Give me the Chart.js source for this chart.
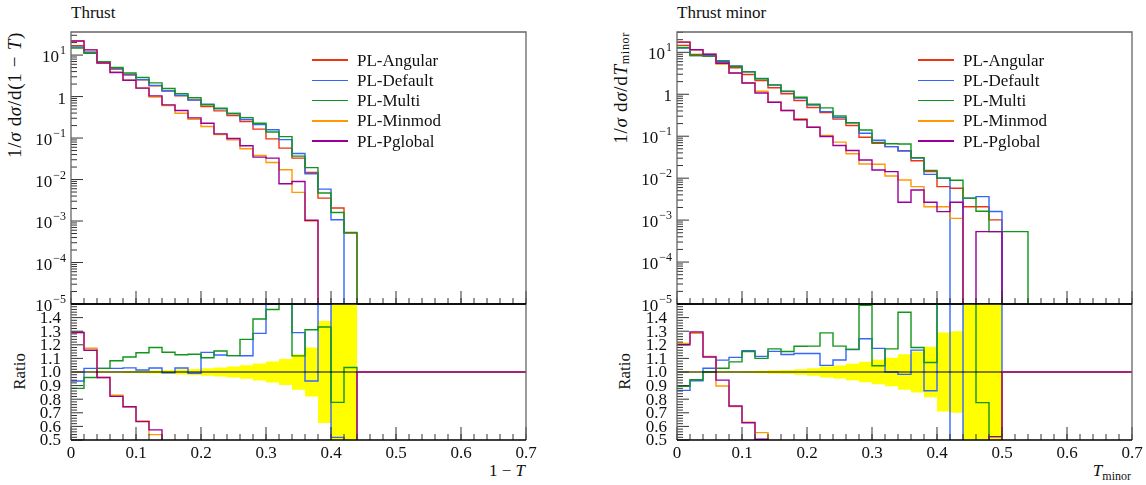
<!DOCTYPE html>
<html>
<head>
<meta charset="utf-8">
<script src="https://cdn.jsdelivr.net/npm/chart.js@4.4.1/dist/chart.umd.min.js"></script>
<style>
  html, body { margin: 0; padding: 0; background: #fff; }
  #page { position: relative; width: 1146px; height: 485px; overflow: hidden;
          font-family: "Liberation Serif", "DejaVu Serif", serif; color: #111; }
  canvas { position: absolute; }
  .txt { position: absolute; white-space: nowrap; font-size: 17px; line-height: 17px; }
  .vtxt { position: absolute; white-space: nowrap; font-size: 17px; line-height: 18px;
          writing-mode: vertical-rl; transform: rotate(180deg); }
  .ytitle { font-size: 19px; letter-spacing: 0.7px; }
  .legline { position: absolute; width: 36px; height: 1.5px; }
  sub { font-size: 12px; vertical-align: -4px; line-height: 0; }
</style>
</head>
<body>
<div id="page">
  <div class="txt" style="left:71px;top:4px">Thrust</div>
  <div class="txt" style="left:677px;top:4px">Thrust minor</div>
  <div class="vtxt ytitle" style="left:6px;top:32px">1/<i>σ</i> d<i>σ</i>/d(1 − <i>T</i>)</div>
  <div class="vtxt ytitle" style="left:612px;top:32px">1/<i>σ</i> d<i>σ</i>/d<i>T</i><sub>minor</sub></div>
  <div class="vtxt" style="left:11px;top:353px">Ratio</div>
  <div class="vtxt" style="left:616px;top:353px">Ratio</div>
  <div class="txt" style="right:621px;top:462px">1 − <i>T</i></div>
  <div class="txt" style="right:15px;top:462px"><i>T</i><sub>minor</sub></div>
</div>
<script>
// binning
const binW = 0.02;
const nBins = 35;          // 0 .. 0.7

const seriesNames = ['PL-Angular', 'PL-Default', 'PL-Multi', 'PL-Minmod', 'PL-Pglobal'];
const seriesColors = ['#ee3311', '#3366ff', '#109618', '#ff9900', '#990099'];
const bandColor = '#ffff00';

// tick labels
const xTickValues = [0, 0.1, 0.2, 0.3, 0.4, 0.5, 0.6, 0.7];
const xTickLabels = ['0', '0.1', '0.2', '0.3', '0.4', '0.5', '0.6', '0.7'];
const ratioTickValues = [0.5, 0.6, 0.7, 0.8, 0.9, 1.0, 1.1, 1.2, 1.3, 1.4];
const ratioTickLabels = ['0.5', '0.6', '0.7', '0.8', '0.9', '1.0', '1.1', '1.2', '1.3', '1.4'];
const logTickExps = [1, 0, -1, -2, -3, -4, -5];
const logTickLabels = [['10', '1'], ['1', ''], ['10', '−1'], ['10', '−2'], ['10', '−3'], ['10', '−4'], ['10', '−5']];

// Thrust, 1-T  (bins of 0.02 from 0)
const thrustAngular = [16.9, 11.5, 6.7, 4.63, 3.32, 2.52, 1.81, 1.37, 1.04, 0.83, 0.574, 0.452, 0.349, 0.25, 0.164, 0.0957, 0.0571, 0.0328, 0.0148, 0.00357, 0.00206, 0.00051];
const thrustDefault = [15.78, 11.81, 6.88, 4.755, 3.42, 2.558, 1.864, 1.363, 1.071, 0.822, 0.657, 0.5085, 0.391, 0.28, 0.2106, 0.158, 0.0914, 0.0423, 0.01382, 0.00589, 0.00107, 0];
const thrustMulti = [14.87, 11.04, 6.88, 5.014, 3.685, 2.878, 2.136, 1.569, 1.172, 0.938, 0.634, 0.5216, 0.391, 0.31, 0.228, 0.1397, 0.1085, 0.0367, 0.01939, 0.00475, 0.0016, 0.000527];
const thrustMinmod = [21.8, 13.51, 6.43, 3.84, 2.47, 1.613, 0.977, 0.607, 0.397, 0.285, 0.19, 0.1217, 0.0906, 0.055, 0.038, 0.0258, 0.0172, 0.0049, 0.001];
const thrustPglobal = [21.8, 13.34, 6.43, 3.80, 2.47, 1.60, 1.04, 0.63, 0.46, 0.307, 0.228, 0.126, 0.0975, 0.065, 0.0347, 0.0328, 0.0079, 0.009, 0.00104];
const thrustRefErr = [0.003, 0.004, 0.005, 0.006, 0.007, 0.009, 0.011, 0.014, 0.018, 0.022, 0.028, 0.033, 0.04, 0.05, 0.062, 0.078, 0.096, 0.13, 0.18, 0.375, 0.6, 0.6];

// Thrust minor
const minorAngular = [14.6, 8.9, 8.1, 5.83, 4.28, 2.97, 2.13, 1.43, 1.03, 0.711, 0.484, 0.368, 0.255, 0.18, 0.0944, 0.068, 0.0564, 0.0453, 0.0261, 0.0143, 0.00627, 0.00573, 0.00209, 0.00209, 0.00101];
const minorDefault = [12.63, 8.33, 8.32, 6.34, 4.74, 3.436, 2.375, 1.647, 1.162, 0.808, 0.55, 0.386, 0.2774, 0.2097, 0.1175, 0.0798, 0.0564, 0.0445, 0.0303, 0.01233, 0.01003, 0, 0.00334, 0.00362, 0.0016];
const minorMulti = [13.07, 8.39, 8.1, 5.99, 4.6, 3.416, 2.343, 1.673, 1.185, 0.846, 0.576, 0.474, 0.3035, 0.2099, 0.1407, 0.0711, 0.066, 0.0652, 0.0308, 0.0153, 0.01003, 0.00888, 0.00334, 0.00162, 0.00053, 0.00053, 0.00053];
const minorMinmod = [17.67, 11.43, 9.02, 5.23, 3.19, 1.871, 1.18, 0.647, 0.411, 0.26, 0.164, 0.104, 0.0722, 0.0381, 0.0218, 0.0214, 0.0113, 0.00905, 0.00627, 0.00209, 0.00209, 0.0011];
const minorPglobal = [17.52, 11.52, 8.99, 5.48, 3.21, 1.862, 1.076, 0.647, 0.411, 0.246, 0.164, 0.0986, 0.0601, 0.0457, 0.0271, 0.0157, 0.0143, 0.00266, 0.00522, 0.00266, 0.00159, 0.00266, 0, 0.00053, 0.00053];
const minorRefErr = [0.003, 0.003, 0.004, 0.005, 0.006, 0.008, 0.01, 0.012, 0.015, 0.02, 0.028, 0.04, 0.048, 0.06, 0.075, 0.09, 0.105, 0.13, 0.15, 0.185, 0.29, 0.3, 0.6, 0.6, 0.6];

const FONT = '"Liberation Serif", "DejaVu Serif", serif';
const page = document.getElementById('page');

// histogram -> step points (left bin edges), zero bins drop out of the log range
function histPoints(vals) {
	const pts = vals.map((v, k) => ({ x: k * binW, y: v > 0 ? v : 1e-9 }));
	pts.push({ x: vals.length * binW, y: 1e-9 });
	return pts;
}

function ratioPoints(vals, ref) {
	const pts = [];
	for (let k = 0; k < nBins; k++) {
		const r = ref[k] || 0;
		const v = vals[k] || 0;
		pts.push({ x: k * binW, y: r > 0 ? v / r : 1 });
	}
	pts.push({ x: nBins * binW, y: pts[nBins - 1].y });
	return pts;
}

function bandPoints(err, sign) {
	const pts = err.map((e, k) => ({ x: k * binW, y: 1 + sign * e }));
	pts.push({ x: err.length * binW, y: 1 + sign * err[err.length - 1] });
	return pts;
}

// frame, inward ticks and tick labels, rivet style
const hepAxes = {
	id: 'hepAxes',
	afterDraw(chart, args, opts) {
		const {
			ctx,
			chartArea: { left, right, top, bottom },
			scales: { x, y },
		} = chart;
		ctx.save();
		ctx.lineWidth = 1;
		ctx.strokeStyle = '#333';

		// x ticks on the bottom edge
		ctx.beginPath();
		for (let k = 0; k <= nBins; k++) {
			const px = x.getPixelForValue(k * binW);
			ctx.moveTo(px, bottom);
			ctx.lineTo(px, bottom - 6);
		}
		xTickValues.forEach((v) => {
			const px = x.getPixelForValue(v);
			ctx.moveTo(px, bottom);
			ctx.lineTo(px, bottom - 13);
		});

		if (opts.kind === 'main') {
			logTickExps.forEach((e) => {
				for (let m = 1; m <= 9; m++) {
					const v = m * Math.pow(10, e);
					if (v > y.max) break;
					const py = y.getPixelForValue(v);
					ctx.moveTo(left, py);
					ctx.lineTo(left + (m === 1 ? 12 : 6), py);
				}
			});
		} else {
			for (let k = 0; k <= 50; k++) {
				const py = y.getPixelForValue(0.5 + k * 0.02);
				ctx.moveTo(left, py);
				ctx.lineTo(left + (k % 5 === 0 ? 12 : 6), py);
			}
		}
		ctx.stroke();

		// frame
		ctx.lineWidth = 1.3;
		ctx.strokeStyle = '#666';
		ctx.beginPath();
		ctx.moveTo(left, bottom);
		ctx.lineTo(left, top);
		if (opts.kind === 'main') ctx.lineTo(right, top);
		else ctx.moveTo(right, top);
		ctx.lineTo(right, bottom);
		ctx.stroke();
		ctx.lineWidth = 1.6;
		ctx.strokeStyle = '#000';
		ctx.beginPath();
		ctx.moveTo(left, bottom);
		ctx.lineTo(right, bottom);
		if (opts.kind === 'ratio') {
			ctx.moveTo(left, top);
			ctx.lineTo(right, top);
		}
		ctx.stroke();

		// labels
		ctx.fillStyle = '#111';
		ctx.textAlign = 'right';
		if (opts.kind === 'main') {
			logTickExps.forEach((e, i) => {
				const py = y.getPixelForValue(Math.pow(10, e));
				const [base, sup] = logTickLabels[i];
				const xr = left - 5;
				ctx.font = '12px ' + FONT;
				const supW = sup ? ctx.measureText(sup).width + 1 : 0;
				if (sup) {
					ctx.textBaseline = 'alphabetic';
					ctx.fillText(sup, xr, py - 1);
				}
				ctx.font = '17px ' + FONT;
				ctx.textBaseline = 'alphabetic';
				ctx.fillText(base, xr - supW, py + 7);
			});
		} else {
			ctx.font = '17px ' + FONT;
			ctx.textBaseline = 'middle';
			ratioTickValues.forEach((v, i) => {
				ctx.fillText(ratioTickLabels[i], left - 10, y.getPixelForValue(v) + 1);
			});
			ctx.textAlign = 'center';
			ctx.textBaseline = 'alphabetic';
			xTickValues.forEach((v, i) => {
				ctx.fillText(xTickLabels[i], x.getPixelForValue(v), bottom + 18);
			});
		}
		ctx.restore();
	},
};

function makeCanvas(left, top, w, h) {
	const c = document.createElement('canvas');
	c.width = w;
	c.height = h;
	c.style.left = left + 'px';
	c.style.top = top + 'px';
	page.appendChild(c);
	return c;
}

function baseOptions(padding, yScale, kind) {
	return {
		responsive: false,
		animation: false,
		devicePixelRatio: 1,
		events: [],
		layout: { padding },
		scales: {
			x: { type: 'linear', min: 0, max: nBins * binW, display: false },
			y: yScale,
		},
		elements: { point: { radius: 0 }, line: { tension: 0 } },
		plugins: {
			legend: { display: false },
			tooltip: { enabled: false },
			hepAxes: { kind },
		},
	};
}

function buildPanel(dx, yMax, series, refErr) {
	const ref = series[0];

	// main histogram plot
	const mainSets = series.map((vals, i) => ({
		data: histPoints(vals),
		borderColor: seriesColors[i],
		borderWidth: 1.4,
		stepped: true,
		fill: false,
		order: seriesNames.length - i,
	}));
	new Chart(makeCanvas(dx, 0, 573, 330), {
		type: 'line',
		data: { datasets: mainSets },
		options: baseOptions({ left: 71, right: 47, top: 32, bottom: 26 },
			{ type: 'logarithmic', min: 1e-5, max: yMax, display: false }, 'main'),
		plugins: [hepAxes],
	});

	// ratio plot
	const ratioSets = [
		{ data: bandPoints(refErr, -1), borderColor: 'rgba(0,0,0,0)', borderWidth: 0, stepped: true, fill: false, order: 20 },
		{ data: bandPoints(refErr, 1), borderColor: 'rgba(0,0,0,0)', borderWidth: 0, backgroundColor: bandColor, stepped: true, fill: '-1', order: 19 },
	];
	series.forEach((vals, i) => {
		if (i === 0) return;
		ratioSets.push({
			data: ratioPoints(vals, ref),
			borderColor: seriesColors[i],
			borderWidth: 1.4,
			stepped: true,
			fill: false,
			order: seriesNames.length - i,
		});
	});
	ratioSets.push({
		data: [{ x: 0, y: 1 }, { x: ref.length * binW, y: 1 }],
		borderColor: '#000',
		borderWidth: 1.2,
		fill: false,
		order: 0,
	});
	new Chart(makeCanvas(dx, 290, 573, 195), {
		type: 'line',
		data: { datasets: ratioSets },
		options: baseOptions({ left: 71, right: 47, top: 14, bottom: 45 },
			{ type: 'linear', min: 0.5, max: 1.5, display: false }, 'ratio'),
		plugins: [hepAxes],
	});

	// legend
	seriesNames.forEach((name, i) => {
		const yc = 60 + i * 20.3;
		const line = document.createElement('div');
		line.className = 'legline';
		line.style.left = dx + 312 + 'px';
		line.style.top = yc - 0.75 + 'px';
		line.style.background = seriesColors[i];
		page.appendChild(line);
		const t = document.createElement('div');
		t.className = 'txt';
		t.style.left = dx + 357 + 'px';
		t.style.top = yc - 8.5 + 'px';
		t.textContent = name;
		page.appendChild(t);
	});
}

buildPanel(0, 36, [thrustAngular, thrustDefault, thrustMulti, thrustMinmod, thrustPglobal], thrustRefErr);
buildPanel(606, 30.5, [minorAngular, minorDefault, minorMulti, minorMinmod, minorPglobal], minorRefErr);
</script>
</body>
</html>
